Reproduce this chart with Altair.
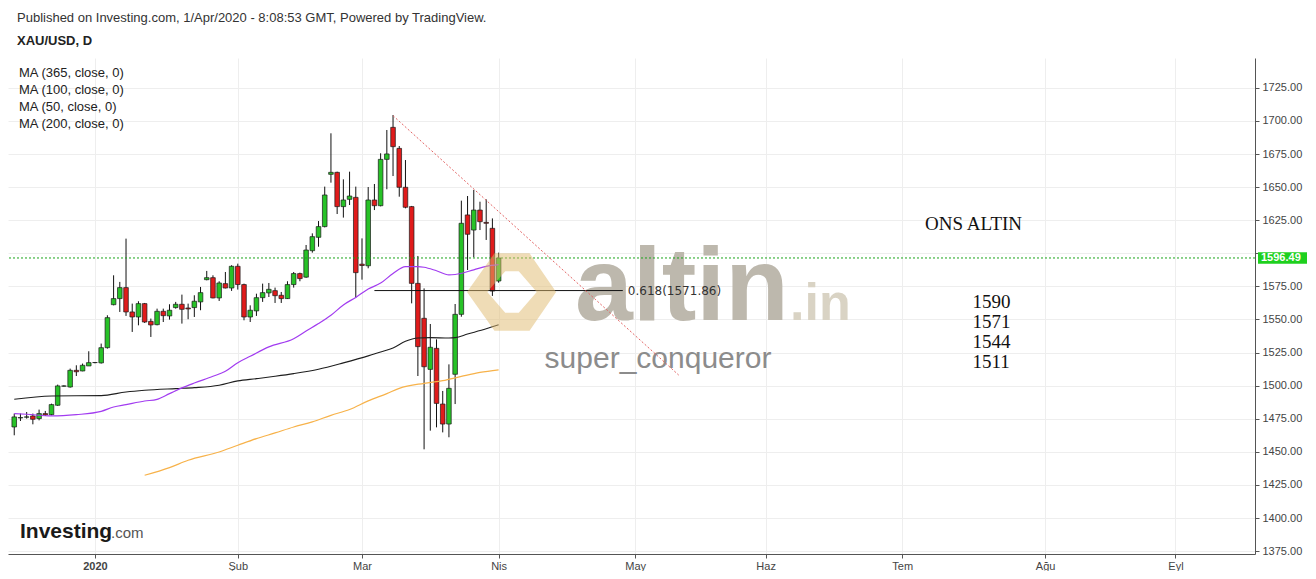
import altair as alt
import pandas as pd

# ---------------- data ----------------
first_session = "2019-12-13"
last_axis_session = "2020-09-30"

opens = [1468.8, 1475.6, 1476.2, 1477.1, 1475.1, 1478.9, 1478.1, 1485.2, 1499.6, 1499.0,
         1511.6, 1511.1, 1514.9, 1517.4, 1517.2, 1528.7, 1561.2, 1565.8, 1574.1, 1555.7,
         1551.9, 1562.0, 1548.6, 1546.1, 1556.2, 1552.7, 1559.0, 1561.5, 1558.7, 1559.0,
         1563.3, 1580.1, 1581.6, 1566.3, 1577.1, 1573.8, 1590.2, 1576.4, 1551.9, 1556.5,
         1566.5, 1570.1, 1571.8, 1568.3, 1565.8, 1576.4, 1584.7, 1582.0, 1602.0, 1612.1,
         1620.2, 1659.7, 1661.2, 1635.3, 1640.8, 1642.3, 1591.8, 1590.6, 1640.3, 1636.0,
         1671.0, 1695.2, 1679.3, 1649.9, 1635.3, 1577.3, 1550.9, 1512.3, 1528.2, 1486.1,
         1471.0, 1508.6, 1553.9, 1629.0, 1617.6, 1632.7, 1623.4, 1618.9, 1579.1]
highs = [1478.9, 1478.9, 1480.1, 1478.9, 1481.9, 1480.9, 1486.4, 1500.8, 1500.3, 1512.9,
         1515.4, 1516.7, 1526.0, 1517.9, 1531.8, 1553.2, 1583.4, 1578.4, 1611.1, 1562.0,
         1563.8, 1562.5, 1550.7, 1558.2, 1558.2, 1561.5, 1563.3, 1568.8, 1562.0, 1568.3,
         1574.6, 1586.7, 1583.4, 1578.9, 1585.9, 1591.0, 1592.2, 1577.1, 1560.7, 1569.5,
         1577.1, 1577.6, 1574.1, 1570.8, 1578.9, 1585.9, 1585.4, 1606.3, 1615.1, 1624.4,
         1650.4, 1690.7, 1661.7, 1655.9, 1661.7, 1650.4, 1611.3, 1650.1, 1652.4, 1675.6,
         1693.2, 1704.5, 1681.1, 1670.5, 1635.8, 1598.0, 1573.5, 1546.6, 1535.0, 1496.0,
         1516.1, 1561.7, 1639.8, 1643.3, 1647.9, 1639.0, 1640.8, 1626.4, 1600.5]
lows = [1462.5, 1473.3, 1475.1, 1470.8, 1473.8, 1477.1, 1477.6, 1484.7, 1499.3, 1498.5,
        1507.3, 1510.9, 1514.9, 1516.9, 1516.7, 1528.0, 1560.7, 1555.7, 1552.7, 1540.6,
        1545.6, 1547.4, 1536.8, 1545.6, 1548.1, 1549.9, 1558.2, 1546.9, 1550.2, 1551.9,
        1557.0, 1579.6, 1566.0, 1564.0, 1573.5, 1571.6, 1572.6, 1549.4, 1548.1, 1552.7,
        1563.3, 1567.0, 1562.5, 1562.5, 1565.5, 1574.1, 1578.9, 1581.5, 1600.5, 1605.0,
        1619.6, 1653.4, 1629.7, 1627.0, 1636.5, 1566.6, 1580.1, 1588.7, 1632.7, 1635.5,
        1648.4, 1658.4, 1642.8, 1634.0, 1562.2, 1507.3, 1451.9, 1466.0, 1468.5, 1464.7,
        1461.0, 1486.1, 1552.1, 1587.4, 1597.0, 1617.6, 1610.1, 1567.8, 1577.8]
closes = [1476.4, 1475.9, 1476.4, 1474.6, 1478.9, 1477.9, 1485.7, 1499.8, 1499.8, 1511.6,
          1510.5, 1515.4, 1517.4, 1517.5, 1528.7, 1551.4, 1565.8, 1574.1, 1555.7, 1551.9,
          1562.0, 1548.1, 1545.9, 1556.2, 1552.9, 1557.0, 1561.5, 1557.7, 1558.0, 1563.8,
          1570.3, 1581.6, 1566.3, 1577.6, 1573.8, 1590.2, 1576.4, 1551.9, 1557.0, 1566.5,
          1570.3, 1572.8, 1568.0, 1565.8, 1576.4, 1584.7, 1580.9, 1602.5, 1612.6, 1620.2,
          1644.1, 1661.2, 1635.3, 1640.3, 1643.3, 1585.4, 1590.8, 1640.3, 1636.0, 1671.0,
          1675.1, 1680.6, 1649.9, 1634.8, 1577.3, 1529.5, 1514.3, 1529.0, 1486.6, 1471.0,
          1498.0, 1553.9, 1622.7, 1614.4, 1632.7, 1623.9, 1622.7, 1571.5, 1596.49]
last_price = 1596.49

ma50_dates = ['2019-12-13', '2019-12-17', '2019-12-23', '2019-12-27', '2020-01-02', '2020-01-06',
              '2020-01-08', '2020-01-13', '2020-01-15', '2020-01-17', '2020-01-21', '2020-01-23',
              '2020-01-28', '2020-01-30', '2020-02-03', '2020-02-05', '2020-02-10', '2020-02-14',
              '2020-02-18', '2020-02-20', '2020-02-24', '2020-02-26', '2020-02-28', '2020-03-03',
              '2020-03-05', '2020-03-09', '2020-03-11', '2020-03-13', '2020-03-16', '2020-03-18',
              '2020-03-20', '2020-03-23', '2020-03-26', '2020-03-30', '2020-04-01']
ma50_values = [1478.9, 1478.4, 1477.1, 1478.1, 1480.6, 1483.9, 1485.7, 1488.4, 1489.7, 1494.0,
               1498.3, 1502.0, 1507.1, 1510.9, 1517.4, 1522.2, 1529.3, 1535.5, 1541.3, 1546.9,
               1553.2, 1561.0, 1566.7, 1573.0, 1577.5, 1584.8, 1590.0, 1590.0, 1589.5, 1586.8,
               1583.7, 1584.0, 1587.5, 1590.2, 1591.5]

ma100_dates = ['2019-12-13', '2019-12-23', '2020-01-02', '2020-01-08', '2020-01-13', '2020-01-20',
               '2020-01-23', '2020-01-29', '2020-02-03', '2020-02-06', '2020-02-11', '2020-02-14',
               '2020-02-20', '2020-02-26', '2020-03-03', '2020-03-05', '2020-03-09', '2020-03-11',
               '2020-03-13', '2020-03-17', '2020-03-20', '2020-03-23', '2020-03-25', '2020-03-30',
               '2020-04-01']
ma100_values = [1489.7, 1492.2, 1492.5, 1495.2, 1496.5, 1497.8, 1498.5, 1500.3, 1503.6, 1505.3,
                1507.1, 1509.1, 1512.4, 1517.2, 1522.5, 1525.5, 1528.5, 1533.5, 1536.0, 1536.3,
                1536.0, 1536.3, 1539.0, 1543.0, 1546.0]

ma200_dates = ['2020-01-13', '2020-01-17', '2020-01-22', '2020-01-29', '2020-02-03', '2020-02-06',
               '2020-02-11', '2020-02-14', '2020-02-19', '2020-02-24', '2020-02-27', '2020-03-03',
               '2020-03-06', '2020-03-10', '2020-03-16', '2020-03-19', '2020-03-24', '2020-03-27',
               '2020-04-01']
ma200_values = [1432.3, 1438.1, 1443.6, 1449.9, 1455.0, 1460.0, 1464.3, 1468.8, 1472.6, 1477.6,
                1482.0, 1488.5, 1494.0, 1498.0, 1501.8, 1503.8, 1507.0, 1510.0, 1512.0]

month_starts = ['2020-01-01', '2020-02-01', '2020-03-01', '2020-04-01', '2020-05-01',
                '2020-06-01', '2020-07-01', '2020-08-01', '2020-09-01']
month_labels = ['2020', 'Şub', 'Mar', 'Nis', 'May', 'Haz', 'Tem', 'Ağu', 'Eyl']
price_ticks = [1375, 1400, 1425, 1450, 1475, 1500, 1525, 1550, 1575, 1600, 1625, 1650, 1675, 1700, 1725]
hidden_tick = 1600  # its label sits under the last-price badge

trend_dates = ['2020-03-09', '2020-05-12']
trend_prices = [1704.0, 1508.0]
fib_dates = ['2020-03-04', '2020-04-29']
fib_level = 1571.86
fib_label = '0.618(1571.86)'

note_date = '2020-07-16'
note_title = 'ONS ALTIN'
note_title_price = 1622.2
note_levels = ['1590', '1571', '1544', '1511']
note_level_prices = [1563.2, 1548.1, 1533.0, 1517.9]

header_lines = ['Published on Investing.com, 1/Apr/2020 - 8:08:53 GMT, Powered by TradingView.',
                'XAU/USD, D']
legend_lines = ['MA (365, close, 0)', 'MA (100, close, 0)', 'MA (50, close, 0)', 'MA (200, close, 0)']

# ---------------- helpers ----------------
sessions = pd.bdate_range(first_session, last_axis_session)


def pos(d):
    return int(sessions.searchsorted(pd.Timestamp(d)))


W, H = 1247, 496
SANS = "Liberation Sans, Arial, sans-serif"
SERIF = "Liberation Serif, Times New Roman, serif"
UP, DOWN = "#27c227", "#e01b1b"

tick_idx = [pos(d) for d in month_starts]
label_expr = " : ".join(f"datum.value == {i} ? '{t}'" for i, t in zip(tick_idx, month_labels)) + " : ''"

xscale = alt.Scale(domain=[-0.2, 199.0], nice=False, zero=False)
yscale = alt.Scale(domain=[1372.8, 1747.6], nice=False, zero=False)
xaxis = alt.Axis(values=tick_idx, labelExpr=label_expr, title=None, grid=True, gridColor="#eeeeee",
                 domainColor="#555555", tickColor="#555555", tickSize=4, labelColor="#444444",
                 labelFont=SANS, labelFontSize=11, labelPadding=2, labelFlush=False,
                 labelFontWeight={"condition": {"test": f"datum.value == {tick_idx[0]}", "value": "bold"},
                                  "value": "normal"})
yaxis = alt.Axis(orient="right", values=price_ticks,
                 labelExpr=f"datum.value == {hidden_tick} ? '' : format(datum.value, '.2f')",
                 title=None, grid=True,
                 gridColor="#eeeeee", domainColor="#555555", tickColor="#555555", tickSize=4,
                 labelColor="#444444", labelFont=SANS, labelFontSize=11, labelPadding=3)


def X(field):
    return alt.X(field, type="quantitative", scale=xscale, axis=xaxis)


def Y(field):
    return alt.Y(field, type="quantitative", scale=yscale, axis=yaxis)


candles = pd.DataFrame({"idx": list(range(len(opens))), "open": opens, "high": highs,
                        "low": lows, "close": closes})


def ma_frame(dates, values):
    return pd.DataFrame({"idx": [pos(d) for d in dates], "v": values})


one = pd.DataFrame({"k": [0]})


def px_text(text, x, y, **kw):
    opts = dict(align="left", baseline="middle", font=SANS)
    opts.update(kw)
    return alt.Chart(one).mark_text(text=text, **opts).encode(x=alt.value(x), y=alt.value(y))


# ---------------- layers ----------------
wicks = alt.Chart(candles).mark_rule(color="#111111", strokeWidth=1).encode(
    x=X("idx"), y=Y("low"), y2="high")
bodies = alt.Chart(candles).mark_bar(size=4.6, stroke="#1a1a1a", strokeWidth=0.7).encode(
    x=X("idx"), y=Y("open"), y2="close",
    color=alt.condition("datum.close >= datum.open", alt.value(UP), alt.value(DOWN)))

ma50 = alt.Chart(ma_frame(ma50_dates, ma50_values)).mark_line(
    color="#a23cf0", strokeWidth=1.2, interpolate="monotone").encode(x=X("idx"), y=Y("v"))
ma100 = alt.Chart(ma_frame(ma100_dates, ma100_values)).mark_line(
    color="#1e1e1e", strokeWidth=1.1, interpolate="monotone").encode(x=X("idx"), y=Y("v"))
ma200 = alt.Chart(ma_frame(ma200_dates, ma200_values)).mark_line(
    color="#f7b24a", strokeWidth=1.2, interpolate="monotone").encode(x=X("idx"), y=Y("v"))

last_df = pd.DataFrame({"p": [last_price], "top": [last_price + 4.3], "bot": [last_price - 4.3],
                        "label": [f"{last_price:.2f}"]})
last_rule = alt.Chart(last_df).mark_rule(color="#1aa51a", strokeDash=[2, 2], strokeWidth=1).encode(y=Y("p"))
badge = alt.Chart(last_df).mark_rect(color="#1ed01e").encode(
    x=alt.value(W + 3), x2=alt.value(W + 52), y=Y("top"), y2="bot")
badge_text = alt.Chart(last_df).mark_text(align="left", baseline="middle", color="white",
                                          fontWeight="bold", fontSize=11, font=SANS).encode(
    x=alt.value(W + 6), y=Y("p"), text="label")

fib_df = pd.DataFrame({"x0": [pos(fib_dates[0])], "x1": [pos(fib_dates[1])], "p": [fib_level],
                       "label": [fib_label]})
fib_rule = alt.Chart(fib_df).mark_rule(color="#111111", strokeWidth=1).encode(x=X("x0"), x2="x1", y=Y("p"))
fib_text = alt.Chart(fib_df).mark_text(align="left", baseline="middle", dx=5, fontSize=12,
                                       font="DejaVu Sans", color="#333333").encode(
    x=X("x1"), y=Y("p"), text="label")

trend_df = pd.DataFrame({"idx": [pos(d) for d in trend_dates], "v": trend_prices})
trend = alt.Chart(trend_df).mark_line(color="#e36464", strokeDash=[2, 2], strokeWidth=1).encode(
    x=X("idx"), y=Y("v"))

note_title_df = pd.DataFrame({"idx": [pos(note_date)], "p": [note_title_price], "t": [note_title]})
note_title_layer = alt.Chart(note_title_df).mark_text(align="center", baseline="middle", dx=3,
                                                      fontSize=19, font=SERIF, color="#111111").encode(
    x=X("idx"), y=Y("p"), text="t")
note_levels_df = pd.DataFrame({"idx": [pos(note_date)] * len(note_levels), "p": note_level_prices,
                               "t": note_levels})
note_levels_layer = alt.Chart(note_levels_df).mark_text(align="left", baseline="middle", dx=2,
                                                        fontSize=19, font=SERIF, color="#111111").encode(
    x=X("idx"), y=Y("p"), text="t")

# watermark
wm_altin = px_text("altin", 567, 262, baseline="alphabetic", fontSize=104, fontWeight="bold", color="#bdb8ad")
wm_in = px_text(".in", 782, 262, baseline="alphabetic", fontSize=52, fontWeight="bold", color="#d9d3c4")
wm_user = px_text("super_conqueror", 650, 310, align="center", baseline="alphabetic", fontSize=30,
                  color="#8c8c8c")
logo_path = ("M -1 0 L -0.39 -0.86 L 0.39 -0.86 L 0.98 0 L 0.39 0.86 L -0.39 0.86 Z "
             "M -0.55 0 L -0.15 0.46 L 0.15 0.46 L 0.55 0 L 0.15 -0.46 L -0.15 -0.46 Z")
wm_logo = alt.Chart(one).mark_point(shape=logo_path, filled=True, size=8100, color="#e0b96e",
                                    opacity=0.5, strokeWidth=0).encode(x=alt.value(504), y=alt.value(234))

# header, legend, logo text
header = [px_text(header_lines[0], 9, -40, fontSize=13, color="#333333"),
          px_text(header_lines[1], 9, -17, fontSize=13, fontWeight="bold", color="#222222")]
legend = [px_text(t, 11, 15 + 17 * i, fontSize=13, color="#222222") for i, t in enumerate(legend_lines)]
inv = [px_text("Investing", 12, 480, baseline="alphabetic", fontSize=21, fontWeight="bold", color="#1a1a1a"),
       px_text(".com", 103, 480, baseline="alphabetic", fontSize=15, color="#555555")]

chart = alt.layer(
    wicks, wm_altin, wm_in, wm_user, bodies,
    ma200, ma100, ma50, last_rule, fib_rule, trend, fib_text, note_title_layer, note_levels_layer,
    wm_logo, badge, badge_text, *header, *legend, *inv
).properties(
    width=W, height=H,
    padding={"left": 0, "top": 50, "right": 52, "bottom": 17},
    autosize=alt.AutoSizeParams(type="none"),
    background="white",
).configure_view(stroke=None)

chart.save("out.html", embed_options={"renderer": "svg", "actions": False})
